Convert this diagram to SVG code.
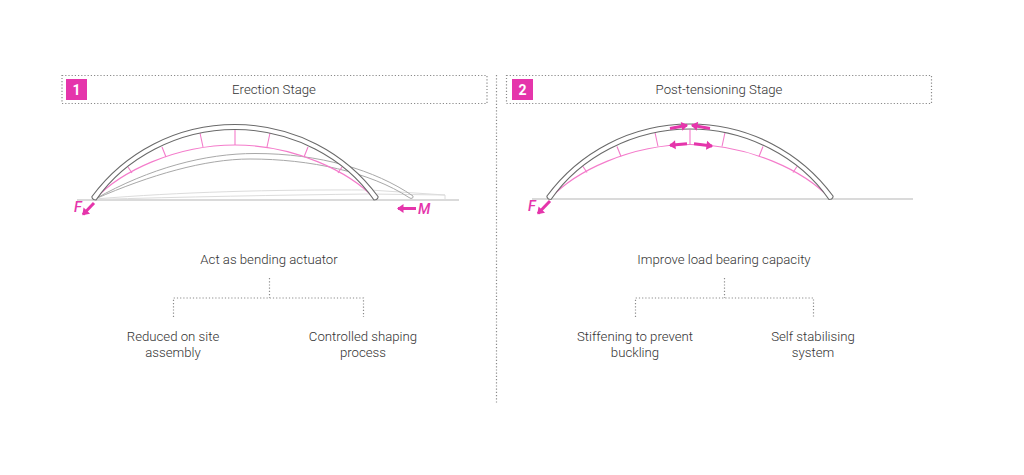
<svg xmlns="http://www.w3.org/2000/svg" xmlns:xlink="http://www.w3.org/1999/xlink" width="1024" height="475" viewBox="0 0 1024 475">
<style>
text{font-family:Roboto,"Liberation Sans",sans-serif;font-weight:300;fill:#333;font-size:13.2px;text-anchor:middle}
.dot{fill:none;stroke:#8a8a8a;stroke-width:1.2;stroke-dasharray:1.2 2;}
.badge{fill:#e535ab}
.num{fill:#fff;font-weight:700;font-size:14px}
.force{fill:#e535ab;font-weight:500;font-style:italic;font-size:14.500px;text-anchor:start}
.ground{fill:none;stroke:#b5b5b5;stroke-width:1.2}
.arch{fill:#fff;stroke:#6a6a6a;stroke-width:1.1}
.arch2{fill:none;stroke:#a8a8a8;stroke-width:1}
.arch3{fill:none;stroke:#dcdcdc;stroke-width:1}
.pink{fill:none;stroke:#f47ccb;stroke-width:1.1}
.arrow{fill:none;stroke:#e535ab;stroke-width:3;marker-end:url(#head)}
</style>
<defs>
<marker id="head" markerUnits="userSpaceOnUse" markerWidth="8" markerHeight="10" refX="6" refY="5" orient="auto"><path d="M0.500,0.500L7,5L0.500,9.500Z" fill="#e535ab"/></marker>
<g id="ticks">
<path class="pink" d="M95,199C120,172 175,145 235,145C295,145 350,172 375,199"/>
<path class="pink" d="M235,130V145M200,133L203,147M162,147L166,157M128,167L132,173M270,133L267,147M308,147L304,157M342,167L338,173"/>
</g>
<path id="mainArch" class="arch" d="M92,196.500C124,153 176,124.500 235,124.500C294,124.500 346,153 378,196.500Q378.500,198 376.500,199.500L374,200C345,158 292,129.500 235,129.500C178,129.500 125,158 96,200L93.500,199.500Q91.500,198 92,196.500Z"/>
</defs>
<g id="divider"><path class="dot" d="M496.500,75V403"/></g>
<g id="header-1">
<rect class="dot" x="62" y="75.500" width="425" height="28"/>
<rect class="badge" x="66" y="79" width="21" height="21"/>
<text class="num" x="76.500" y="94.500">1</text>
<text x="274" y="94">Erection Stage</text>
</g>
<g id="header-2">
<rect class="dot" x="506.500" y="75.500" width="425" height="28"/>
<rect class="badge" x="512" y="79" width="21" height="21"/>
<text class="num" x="522.500" y="94.500">2</text>
<text x="719" y="94">Post-tensioning Stage</text>
</g>
<g id="arch-1">
<path class="ground" d="M77,200H459"/>
<path class="arch3" d="M95,199C180,192 270,189.500 370,190L445,195V199.500M95,199.500C180,197 280,195 370,194L445,195"/>
<path class="arch2" d="M95,199C150,168 205,153.500 255,153.500C320,153.500 375,170 413,196Q414,198 411,198.500L409,197.500C370,172 310,159 250,159C205,159 150,175 95,199"/>
<use xlink:href="#ticks"/>
<use xlink:href="#mainArch"/>
<path class="arrow" d="M94,203L83,214.500"/>
<path class="arrow" d="M416,208.500H398"/>
<text class="force" x="74" y="212">F</text>
<text class="force" x="418" y="214">M</text>
</g>
<g id="arch-2">
<path class="ground" d="M532,199H913"/>
<g transform="translate(455,-0.500)"><use xlink:href="#ticks"/><use xlink:href="#mainArch"/></g>
<path class="arrow" d="M550,201L538,213.500"/>
<path class="arrow" d="M670,128.500L687,125.300"/>
<path class="arrow" d="M710,128.500L692,125.300"/>
<path class="arrow" d="M687,143.700L670,145.300"/>
<path class="arrow" d="M694,143.700L712,146"/>
<text class="force" x="528" y="211">F</text>
</g>
<g id="connectors">
<path class="dot" d="M269.500,278V298M173.500,317V298H363.500V317"/>
<path class="dot" d="M724.500,278V298M635.500,317V298H813.500V317"/>
</g>
<g id="node-act"><text x="269" y="264">Act as bending actuator</text></g>
<g id="node-reduced"><text x="173" y="341">Reduced on site</text><text x="173" y="357">assembly</text></g>
<g id="node-controlled"><text x="363" y="341">Controlled shaping</text><text x="363" y="357">process</text></g>
<g id="node-improve"><text x="724" y="264">Improve load bearing capacity</text></g>
<g id="node-stiffening"><text x="635" y="341">Stiffening to prevent</text><text x="635" y="357">buckling</text></g>
<g id="node-self"><text x="813" y="341">Self stabilising</text><text x="813" y="357">system</text></g>
</svg>
